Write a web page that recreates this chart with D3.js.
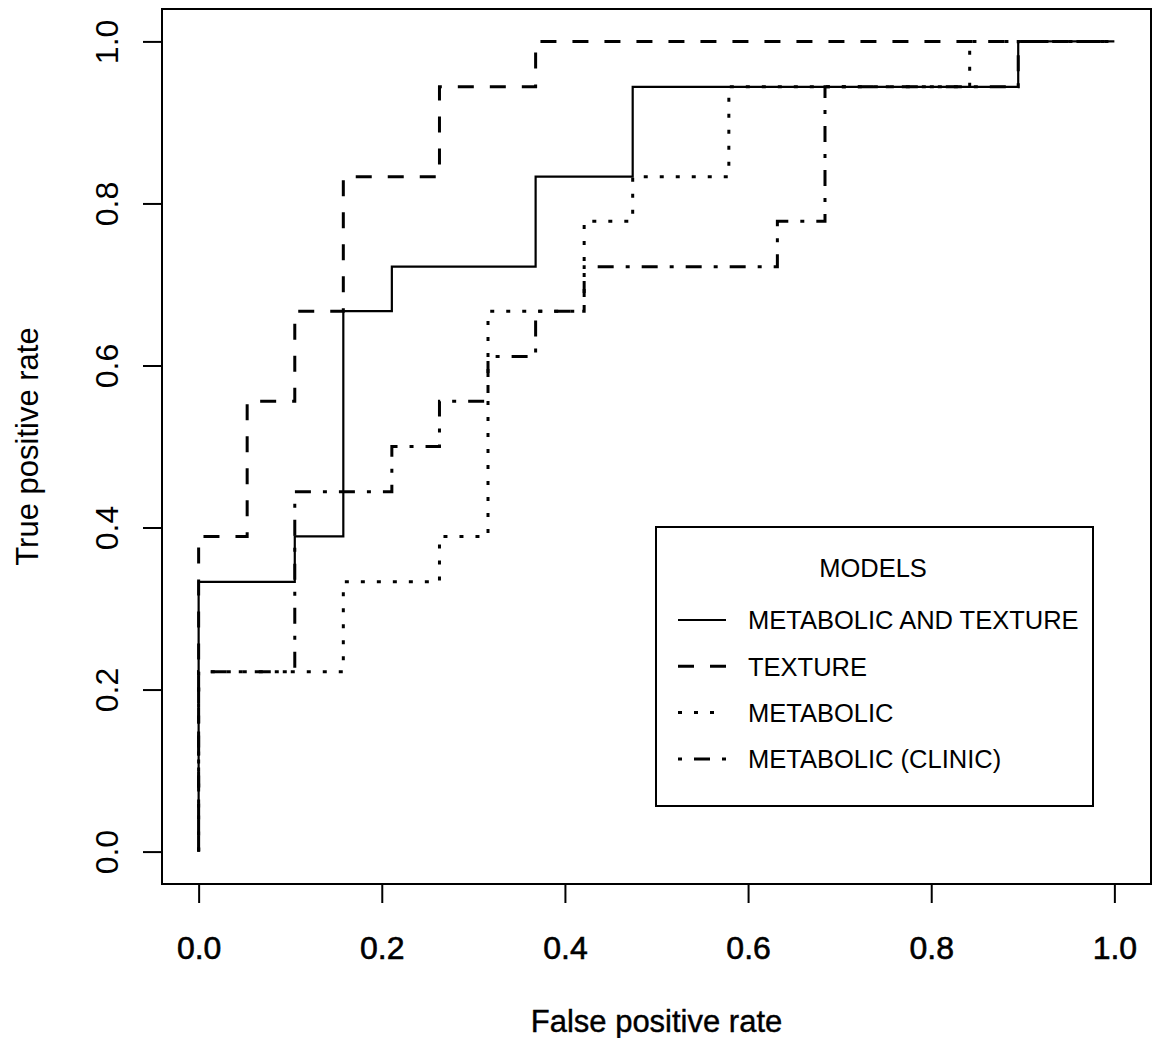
<!DOCTYPE html>
<html>
<head>
<meta charset="utf-8">
<script src="https://cdn.jsdelivr.net/npm/d3@7"></script>
<style>
  body { margin: 0; background: #fff; }
  text { font-family: "Liberation Sans", Arial, sans-serif; fill: #000; }
</style>
</head>
<body>
<script>
// ROC curves (fpr, tpr corner points)
const metaTexFpr = [0, 0, 0.105, 0.105, 0.158, 0.158, 0.211, 0.211, 0.368, 0.368, 0.474, 0.474, 0.895, 0.895, 1]
const metaTexTpr = [0, 0.333, 0.333, 0.389, 0.389, 0.667, 0.667, 0.722, 0.722, 0.833, 0.833, 0.944, 0.944, 1, 1]

const textureFpr = [0, 0, 0.053, 0.053, 0.105, 0.105, 0.158, 0.158, 0.263, 0.263, 0.368, 0.368, 1]
const textureTpr = [0, 0.389, 0.389, 0.556, 0.556, 0.667, 0.667, 0.833, 0.833, 0.944, 0.944, 1, 1]

const metabolicFpr = [0, 0, 0.158, 0.158, 0.263, 0.263, 0.316, 0.316, 0.421, 0.421, 0.474, 0.474, 0.579, 0.579, 0.842, 0.842, 1]
const metabolicTpr = [0, 0.222, 0.222, 0.333, 0.333, 0.389, 0.389, 0.667, 0.667, 0.778, 0.778, 0.833, 0.833, 0.944, 0.944, 1, 1]

const clinicFpr = [0, 0, 0.105, 0.105, 0.211, 0.211, 0.263, 0.263, 0.316, 0.316, 0.368, 0.368, 0.421, 0.421, 0.632, 0.632, 0.684, 0.684, 0.895, 0.895, 1]
const clinicTpr = [0, 0.222, 0.222, 0.444, 0.444, 0.5, 0.5, 0.556, 0.556, 0.611, 0.611, 0.667, 0.667, 0.722, 0.722, 0.778, 0.778, 0.944, 0.944, 1, 1]

const modelNames = ["METABOLIC AND TEXTURE", "TEXTURE", "METABOLIC", "METABOLIC (CLINIC)"]
const tickValues = [0, 0.2, 0.4, 0.6, 0.8, 1]
const tickLabels = ["0.0", "0.2", "0.4", "0.6", "0.8", "1.0"]

const width = 1157
const height = 1038
const lineDash = [null, "16,16", "4,12", "4,12,16,12"]
const lineWidth = [2.2, 3, 3, 3]

const series = modelNames.map((name, i) => ({
    name: name,
    fpr: [metaTexFpr, textureFpr, metabolicFpr, clinicFpr][i],
    tpr: [metaTexTpr, textureTpr, metabolicTpr, clinicTpr][i],
    dash: lineDash[i],
    lw: lineWidth[i]
}))

const svg = d3.select("body")
    .append("svg")
    .attr("width", width)
    .attr("height", height)

// R style: 4% padding on each side of the data range
const x = d3.scaleLinear().domain([-0.04, 1.04]).range([162, 1151])
const y = d3.scaleLinear().domain([-0.04, 1.04]).range([884, 9])

const line = d3.line()
    .x(d => x(d[0]))
    .y(d => y(d[1]))

svg.append("g")
    .attr("fill", "none")
    .attr("stroke", "#000")
  .selectAll("path")
  .data(series)
  .join("path")
    .attr("stroke-width", d => d.lw)
    .attr("stroke-dasharray", d => d.dash)
    .attr("d", d => line(d.fpr.map((f, i) => [f, d.tpr[i]])));

// plot box
svg.append("rect")
    .attr("x", x(-0.04))
    .attr("y", y(1.04))
    .attr("width", x(1.04) - x(-0.04))
    .attr("height", y(-0.04) - y(1.04))
    .attr("fill", "none")
    .attr("stroke", "#000")
    .attr("stroke-width", 2)

// x axis
const xAxis = svg.append("g")
    .attr("transform", "translate(0," + y(-0.04) + ")")
    .call(d3.axisBottom(x).tickValues(tickValues).tickSize(19).tickPadding(33)
        .tickFormat((d, i) => tickLabels[i]))
xAxis.select(".domain").attr("d", "M" + x(0) + ",0H" + x(1)).attr("stroke-width", 2)
xAxis.selectAll(".tick line").attr("stroke-width", 2)
xAxis.selectAll(".tick text")
    .attr("font-size", 32)
    .attr("font-family", "Liberation Sans, Arial, sans-serif")
    .attr("stroke", "#000")
    .attr("stroke-width", 0.6)
    .attr("dy", "0.71em")

// y axis
const yAxis = svg.append("g")
    .attr("transform", "translate(" + x(-0.04) + ",0)")
    .call(d3.axisLeft(y).tickValues(tickValues).tickSize(19)
        .tickFormat((d, i) => tickLabels[i]))
yAxis.select(".domain").attr("d", "M0," + y(0) + "V" + y(1)).attr("stroke-width", 2)
yAxis.selectAll(".tick line").attr("stroke-width", 2)
yAxis.selectAll(".tick text")
    .attr("font-size", 32)
    .attr("font-family", "Liberation Sans, Arial, sans-serif")
    .attr("x", null)
    .attr("dy", null)
    .attr("text-anchor", "middle")
    .attr("transform", "translate(-44,0) rotate(-90)")

// axis titles
svg.append("text")
    .attr("x", (x(0) + x(1)) / 2)
    .attr("y", 1032)
    .attr("text-anchor", "middle")
    .attr("font-size", 31)
    .attr("stroke", "#000")
    .attr("stroke-width", 0.4)
    .text("False positive rate")

svg.append("text")
    .attr("transform", "translate(38," + (y(0) + y(1)) / 2 + ") rotate(-90)")
    .attr("text-anchor", "middle")
    .attr("font-size", 31)
    .text("True positive rate")

// legend
const legend = svg.append("g")

legend.append("rect")
    .attr("x", 656)
    .attr("y", 527)
    .attr("width", 437)
    .attr("height", 279)
    .attr("fill", "#fff")
    .attr("stroke", "#000")
    .attr("stroke-width", 2)

legend.append("text")
    .attr("x", 873)
    .attr("y", 577)
    .attr("text-anchor", "middle")
    .attr("font-size", 25.5)
    .text("MODELS")

const item = legend.selectAll("g.item")
    .data(series)
    .join("g")
        .attr("class", "item")
        .attr("transform", (d, i) => "translate(0," + (620 + i * 46.3) + ")")

item.append("line")
    .attr("x1", 678)
    .attr("x2", 726)
    .attr("stroke", "#000")
    .attr("stroke-width", d => d.lw)
    .attr("stroke-dasharray", d => d.dash)

item.append("text")
    .attr("x", 748)
    .attr("dy", "0.37em")
    .attr("font-size", 25.5)
    .text(d => d.name)

svg.node();
</script>
</body>
</html>
